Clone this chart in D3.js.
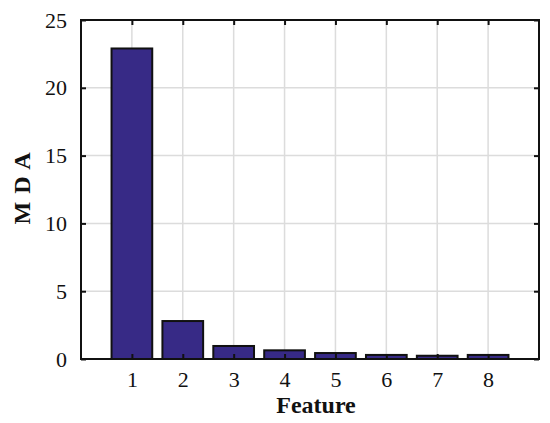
<!DOCTYPE html>
<html>
<head>
<meta charset="utf-8">
<script src="https://cdn.jsdelivr.net/npm/d3@7"></script>
<style>
  body { margin: 0; background: #fff; }
  text { font-family: "Liberation Serif", "DejaVu Serif", serif; }
</style>
</head>
<body>
<div id="chart"></div>
<script>
// Data
const features = [1, 2, 3, 4, 5, 6, 7, 8];
const mda = [22.9, 2.8, 0.96, 0.64, 0.44, 0.3, 0.24, 0.3];
const yTicks = [0, 5, 10, 15, 20, 25];

const W = 550, H = 423;
const margin = { top: 20, right: 11, bottom: 64, left: 81 };
const width = W - margin.left - margin.right;
const height = H - margin.top - margin.bottom;

const svg = d3.select("#chart").append("svg")
  .attr("width", W).attr("height", H);

const g = svg.append("g")
  .attr("transform", `translate(${margin.left},${margin.top})`);

const x = d3.scaleLinear().domain([0, 9]).range([0, width]);
const y = d3.scaleLinear().domain([0, 25]).range([height, 0]);

// grid
g.append("g").selectAll("line.vg").data(features).join("line")
  .attr("x1", d => x(d)).attr("x2", d => x(d))
  .attr("y1", 0).attr("y2", height)
  .attr("stroke", "#dcdcdc").attr("stroke-width", 1.5);
g.append("g").selectAll("line.hg").data(yTicks).join("line")
  .attr("x1", 0).attr("x2", width)
  .attr("y1", d => y(d)).attr("y2", d => y(d))
  .attr("stroke", "#dcdcdc").attr("stroke-width", 1.5);

// bars
const bw = x(0.8) - x(0);
g.append("g").selectAll("rect").data(features).join("rect")
  .attr("x", d => x(d) - bw / 2)
  .attr("y", (d, i) => y(mda[i]))
  .attr("width", bw)
  .attr("height", (d, i) => height - y(mda[i]))
  .attr("fill", "#372a86")
  .attr("stroke", "#111")
  .attr("stroke-width", 2);

// axes with inward ticks
const tickLen = 5;
g.append("g").attr("transform", `translate(0,${height})`)
  .call(d3.axisBottom(x).tickValues(features).tickSize(-tickLen).tickPadding(12).tickFormat(d3.format("d")))
  .call(a => a.select(".domain").remove());
g.append("g")
  .call(d3.axisTop(x).tickValues(features).tickSize(-tickLen).tickFormat(""))
  .call(a => a.select(".domain").remove());
g.append("g")
  .call(d3.axisLeft(y).tickValues(yTicks).tickSize(-tickLen).tickPadding(14))
  .call(a => a.select(".domain").remove());
g.append("g").attr("transform", `translate(${width},0)`)
  .call(d3.axisRight(y).tickValues(yTicks).tickSize(-tickLen).tickFormat(""))
  .call(a => a.select(".domain").remove());

g.selectAll(".tick line").attr("stroke", "#111").attr("stroke-width", 2);
g.selectAll(".tick text").attr("font-size", 22).attr("fill", "#111")
  .style("font-family", "Liberation Serif, DejaVu Serif, serif");

// box
g.append("rect")
  .attr("x", 0).attr("y", 0).attr("width", width).attr("height", height)
  .attr("fill", "none").attr("stroke", "#111").attr("stroke-width", 2);

// axis labels
svg.append("text")
  .attr("x", 316).attr("y", 413)
  .attr("text-anchor", "middle")
  .attr("font-size", 24).attr("font-weight", "bold").attr("fill", "#111")
  .text("Feature");

svg.append("text")
  .attr("transform", `translate(30,188) rotate(-90)`)
  .attr("text-anchor", "middle")
  .attr("font-size", 24).attr("font-weight", "bold").attr("fill", "#111")
  .attr("letter-spacing", 1)
  .text("M D A");
</script>
</body>
</html>
